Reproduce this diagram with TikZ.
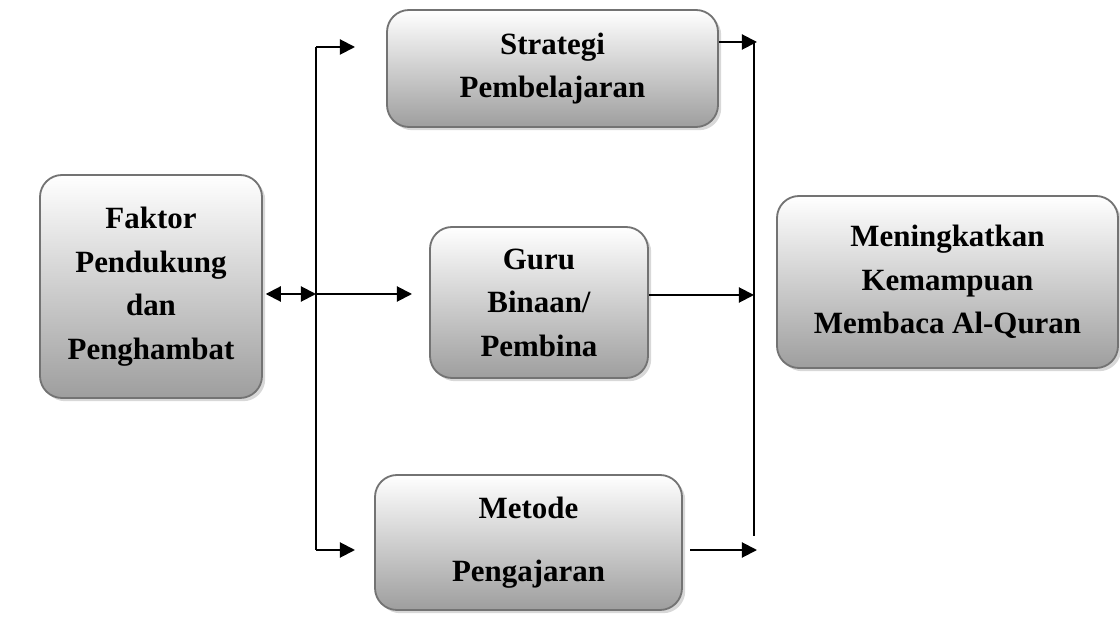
\documentclass[tikz,border=0pt]{standalone}
\usepackage{fontspec}
\setmainfont{Liberation Serif}
\usetikzlibrary{arrows.meta,shadows}
\tikzset{
  kotak/.style={draw=black!55, line width=1.3pt, rounded corners=0.55cm,
    top color=white, bottom color=black!38, align=center,
    font=\fontsize{22}{31}\selectfont\bfseries,
    drop shadow={shadow xshift=0.08cm, shadow yshift=-0.08cm, fill=black!30},
    inner sep=0pt},
  ujung/.tip={Triangle[length=0.38cm,width=0.38cm]},
  panah/.style={line width=1.4pt, -ujung},
  garis/.style={line width=1.4pt}
}
\begin{document}
\begin{tikzpicture}
    \useasboundingbox (0, 0) rectangle (28, 15.525);
    % boxes
    \node[kotak, minimum width=5.55cm, minimum height=5.575cm] (faktor) at (3.775, 8.3625) {Faktor\\Pendukung\\dan\\Penghambat};
    \node[kotak, minimum width=8.275cm, minimum height=2.925cm] (strategi) at (13.8125, 13.8125) {Strategi\\Pembelajaran};
    \node[kotak, minimum width=5.45cm, minimum height=3.775cm] (guru) at (13.475, 7.9625) {Guru\\Binaan/\\Pembina};
    \node[kotak, minimum width=7.675cm, minimum height=3.375cm] (metode) at (13.2125, 1.9625) {Metode\\[0.5cm]Pengajaran};
    \node[kotak, minimum width=8.525cm, minimum height=4.3cm] (hasil) at (23.6875, 8.475) {Meningkatkan\\Kemampuan\\Membaca Al-Quran};
    % left branch
    \coordinate (kiriatas) at (7.9, 14.35);
    \coordinate (kiritengah) at (7.9, 8.175);
    \coordinate (kiribawah) at (7.9, 1.775);
    \draw[garis] (kiriatas) -- (kiribawah);
    \draw[line width=1.4pt, ujung-ujung] ([xshift=0.07cm]faktor.east |- kiritengah) -- (kiritengah);
    \draw[panah] (kiritengah) -- (10.3, 8.175);
    \draw[panah] (kiriatas) -- (8.875, 14.35);
    \draw[panah] (kiribawah) -- (8.875, 1.775);
    % right branch
    \coordinate (kananatas) at (18.85, 14.475);
    \coordinate (kananbawah) at (18.85, 2.125);
    \draw[garis] (kananatas) -- (kananbawah);
    \draw[panah] (strategi.east |- kananatas) -- (18.925, 14.475);
    \draw[panah] (guru.east |- 0, 8.15) -- (18.85, 8.15);
    \draw[panah] (17.25, 1.775) -- (18.925, 1.775);
\end{tikzpicture}
\end{document}
